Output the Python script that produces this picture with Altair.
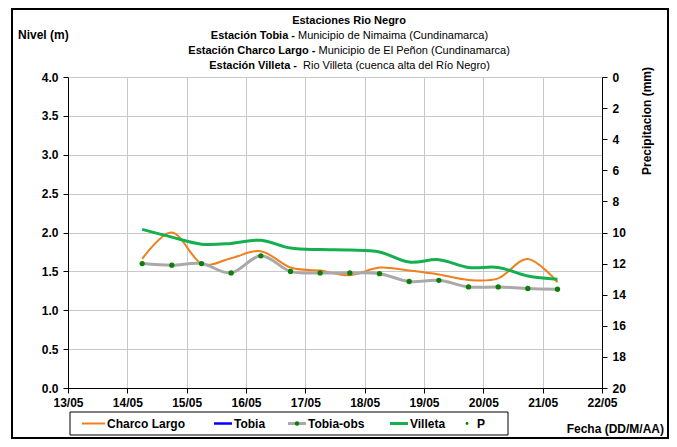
import altair as alt
import pandas as pd

# ---------------- data ----------------
DATES = [
    "2011-05-14T06:00", "2011-05-14T18:00", "2011-05-15T06:00", "2011-05-15T18:00",
    "2011-05-16T06:00", "2011-05-16T18:00", "2011-05-17T06:00", "2011-05-17T18:00",
    "2011-05-18T06:00", "2011-05-18T18:00", "2011-05-19T06:00", "2011-05-19T18:00",
    "2011-05-20T06:00", "2011-05-20T18:00", "2011-05-21T06:00",
]
CHARCO_LARGO = [1.66, 2.00, 1.60, 1.67, 1.76, 1.55, 1.51, 1.45, 1.55, 1.51, 1.46, 1.39, 1.41, 1.66, 1.36]
TOBIA_OBS = [1.60, 1.58, 1.60, 1.48, 1.70, 1.50, 1.48, 1.48, 1.47, 1.37, 1.385, 1.30, 1.30, 1.28, 1.27]
VILLETA = [2.04, 1.94, 1.85, 1.86, 1.90, 1.80, 1.78, 1.775, 1.75, 1.62, 1.65, 1.55, 1.55, 1.44, 1.40]
P_DATES = []   # no precipitation marks visible
P_VALUES = []

LEVEL_TICKS = [0.0, 0.5, 1.0, 1.5, 2.0, 2.5, 3.0, 3.5, 4.0]
PRECIP_TICKS = [0, 2, 4, 6, 8, 10, 12, 14, 16, 18, 20]
DAY_TICKS = [13, 14, 15, 16, 17, 18, 19, 20, 21, 22]

TITLE_MAIN = "Estaciones Rio Negro"
TITLE_BOLD = ["Estación Tobia -", "Estación Charco Largo -", "Estación Villeta -"]
TITLE_REGULAR = [
    "Municipio de Nimaima (Cundinamarca)",
    "Municipio de El Peñon (Cundinamarca)",
    "Rio Villeta (cuenca alta del Río Negro)",
]
Y_TITLE = "Nivel (m)"
Y2_TITLE = "Precipitacion (mm)"
X_TITLE = "Fecha (DD/M/AA)"
LEGEND_LABELS = ["Charco Largo", "Tobia", "Tobia-obs", "Villeta", "P"]

ORANGE = "#F07F1E"
BLUE = "#0000FF"
GREY = "#A9A9A9"
GREEN = "#14B04F"
DOT = "#0A800A"
FONT = "Liberation Sans"

df = pd.DataFrame({"fecha": DATES, "charco": CHARCO_LARGO, "obs": TOBIA_OBS, "villeta": VILLETA})

x_scale = alt.Scale(domain=[alt.DateTime(year=2011, month=5, date=13),
                            alt.DateTime(year=2011, month=5, date=22)])
x_axis = alt.Axis(title=None, format="%d/%m",
                  values=[alt.DateTime(year=2011, month=5, date=d) for d in DAY_TICKS],
                  labelFlush=False, labelOverlap=False, tickSize=5, labelPadding=4,
                  grid=True)
X = alt.X("fecha:T", scale=x_scale, axis=x_axis)

y_scale = alt.Scale(domain=[0, 4])
y_axis = alt.Axis(title=None, values=LEVEL_TICKS, format=".1f", tickSize=5,
                  labelPadding=5, grid=True)

base = alt.Chart(df)
charco = base.mark_line(color=ORANGE, strokeWidth=2, interpolate="cardinal").encode(
    x=X, y=alt.Y("charco:Q", scale=y_scale, axis=y_axis))
obs_line = base.mark_line(color=GREY, strokeWidth=3, interpolate="cardinal").encode(
    x=X, y=alt.Y("obs:Q", scale=y_scale, axis=y_axis))
villeta = base.mark_line(color=GREEN, strokeWidth=3, interpolate="cardinal").encode(
    x=X, y=alt.Y("villeta:Q", scale=y_scale, axis=y_axis))
obs_pts = base.mark_point(filled=True, color=DOT, size=28, opacity=1).encode(
    x=X, y=alt.Y("obs:Q", scale=y_scale, axis=y_axis))

levels = alt.layer(charco, obs_line, villeta, obs_pts)

p_layer = alt.Chart(alt.Data(values=[{"fecha": d, "p": v} for d, v in zip(P_DATES, P_VALUES)])).mark_point(
    filled=True, color=DOT, size=10).encode(
    x=X,
    y=alt.Y("p:Q", scale=alt.Scale(domain=[0, 20], reverse=True),
            axis=alt.Axis(orient="right", title=None, values=PRECIP_TICKS, grid=False,
                          tickSize=5, labelPadding=5)))

one = alt.Data(values=[{}])


def txt(s, x, y, weight="bold", align="left", size=12, angle=0):
    return alt.Chart(one).mark_text(text=s, font=FONT, fontSize=size, fontWeight=weight,
                                    align=align, baseline="middle", angle=angle,
                                    color="black").encode(x=alt.value(x), y=alt.value(y))


decor = []
# outer frame
decor.append(alt.Chart(one).mark_rect(fill="white", fillOpacity=0, stroke="black", strokeWidth=2).encode(
    x=alt.value(-56), x2=alt.value(600), y=alt.value(-68), y2=alt.value(361)))
# titles
decor.append(txt(TITLE_MAIN, 281, -56, align="center", size=11))
splits = [(227, 230), (247.5, 250.5), (229, 235)]
for i, (b, r) in enumerate(zip(TITLE_BOLD, TITLE_REGULAR)):
    yy = -41 + 15 * i
    decor.append(txt(b, splits[i][0], yy, align="right", size=11))
    decor.append(txt(r, splits[i][1], yy, weight="normal", align="left", size=11))
decor.append(txt(Y_TITLE, -50, -42, size=12))
decor.append(txt(Y2_TITLE, 579, 44, align="center", size=12, angle=270))
decor.append(txt(X_TITLE, 596, 352, align="right", size=12))

# legend
ly = 346.5
decor.append(alt.Chart(one).mark_rect(fill="white", fillOpacity=0, stroke="black", strokeWidth=1).encode(
    x=alt.value(2), x2=alt.value(440), y=alt.value(335), y2=alt.value(358)))
leg_lines = [(14, 37, ORANGE, 2), (146, 164, BLUE, 2.5), (220, 238, GREY, 3), (322, 340, GREEN, 3)]
for x1, x2, c, w in leg_lines:
    decor.append(alt.Chart(one).mark_rule(color=c, strokeWidth=w).encode(
        x=alt.value(x1), x2=alt.value(x2), y=alt.value(ly)))
decor.append(alt.Chart(one).mark_point(filled=True, color=DOT, size=20, opacity=1).encode(
    x=alt.value(229), y=alt.value(ly)))
decor.append(alt.Chart(one).mark_point(filled=True, color=DOT, size=8, opacity=1).encode(
    x=alt.value(399), y=alt.value(ly)))
for lab, lx in zip(LEGEND_LABELS, [39, 166, 240, 342, 409]):
    decor.append(txt(lab, lx, ly + 0.5, size=12))

chart = alt.layer(levels, p_layer, *decor).resolve_scale(y="independent").properties(
    width=534, height=311,
    padding={"left": 60, "top": 69, "right": 67, "bottom": 51},
    autosize=alt.AutoSizeParams(type="none"),
    background="white",
).configure_view(stroke=None).configure_axis(
    labelFont=FONT, labelFontWeight="bold", labelFontSize=12, labelColor="black",
    tickColor="black", domainColor="black", gridColor="#C8C8C8", gridWidth=1,
)

chart.save("out.html", embed_options={"renderer": "svg", "actions": False})
